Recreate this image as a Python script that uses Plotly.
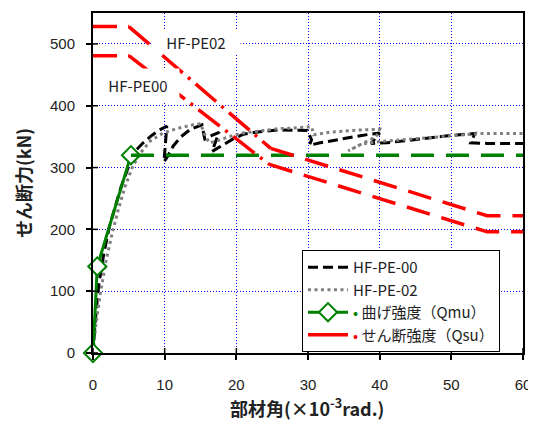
import plotly.graph_objects as go

# ---------------- data ----------------
pe00_x = [0, 0.3, 0.8, 1.5, 2.3, 3.2, 3.9, 4.6, 5.2, 6.0, 7.0, 8.2, 9.3, 10.3,
          10.1, 9.9, 10.4, 11.2, 12.3, 13.6, 15.2,
          15.6, 16.6, 17.6, 16.6, 18.0, 19.5, 21.0, 23.3, 26.0, 29.9,
          30.5, 30.2, 31.7, 34.0, 37.5, 40.0,
          38.8, 41.0, 44.0, 47.0, 50.0, 53.3,
          52.7, 55.0, 60.0]
pe00_y = [0, 50, 110, 160, 205, 243, 268, 290, 310, 328, 340, 352, 361, 367,
          335, 309, 318, 335, 350, 362, 369,
          346, 352, 357, 326, 336, 346, 354, 358, 361, 360,
          345, 336, 340, 345, 352, 356,
          339, 340, 344, 349, 352, 355,
          340, 339, 339]

pe02_x = [0, 0.4, 1.0, 1.8, 2.7, 3.6, 4.5, 5.4, 6.5, 8.0, 9.8, 11.7, 13.5, 15.0,
          15.5, 16.2, 17.3, 19.0, 21.0, 23.0, 26.0, 28.0, 30.5,
          30.8, 33.0, 36.0, 40.0,
          39.5, 35.6, 37.5, 40.0, 44.0, 48.0, 51.0, 54.0, 57.0, 60.0]
pe02_y = [0, 45, 95, 148, 195, 235, 270, 298, 322, 343, 356, 363, 368, 371,
          356, 340, 343, 350, 356, 359, 363, 364, 366,
          353, 357, 360, 362,
          350, 327, 338, 342, 346, 349, 352, 355, 355, 355]

qmu_x = [0, 0.6, 5.3, 60]
qmu_y = [0, 140, 320, 320]

qsu02_x = [0, 5.0, 24.8, 55.0, 60]
qsu02_y = [528, 528, 331, 222, 222]
qsu00_x = [0, 5.0, 24.6, 55.0, 60]
qsu00_y = [481, 481, 305, 196, 196]

x_ticks = [0, 10, 20, 30, 40, 50, 60]
y_ticks = [0, 100, 200, 300, 400, 500]

label_text = ["HF-PE02", "HF-PE00"]
label_x = [14.4, 6.3]
label_y = [503, 433]
label_w = [86, 80]
label_h = [20, 30]

# ---------------- styles ----------------
RED = "#FF0000"
GREEN = "#008000"
GRAY = "#7F7F7F"
JP = "Noto Sans CJK JP"
NUM = "Liberation Sans"

fig = go.Figure()

fig.add_trace(go.Scatter(x=pe00_x, y=pe00_y, mode="lines", name="HF-PE-00",
                         line=dict(color="black", width=3, dash="10px,5px")))
fig.add_trace(go.Scatter(x=pe02_x, y=pe02_y, mode="lines", name="HF-PE-02",
                         line=dict(color=GRAY, width=3, dash="3px,3.5px")))

# Qmu: solid rising part with markers, dashed plateau
fig.add_trace(go.Scatter(x=qmu_x[:3], y=qmu_y[:3], mode="lines+markers",
                         name="<span style='color:#008000'>•</span> 曲げ強度（Qmu）",
                         cliponaxis=False,
                         line=dict(color=GREEN, width=3),
                         marker=dict(symbol="diamond", size=14, color="white",
                                     line=dict(color=GREEN, width=2))))
fig.add_trace(go.Scatter(x=qmu_x[2:], y=qmu_y[2:], mode="lines", showlegend=False,
                         line=dict(color=GREEN, width=3.5, dash="23px,12px")))

# Qsu lines
for xs, ys in [(qsu02_x, qsu02_y), (qsu00_x, qsu00_y)]:
    fig.add_trace(go.Scatter(x=xs[:2], y=ys[:2], mode="lines", showlegend=False,
                             line=dict(color=RED, width=3.5, dash="24px,11px")))
    fig.add_trace(go.Scatter(x=xs[1:3], y=ys[1:3], mode="lines", showlegend=False,
                             line=dict(color=RED, width=3.5, dash="27px,7px,3px,7px")))
    fig.add_trace(go.Scatter(x=xs[2:], y=ys[2:], mode="lines", showlegend=False,
                             line=dict(color=RED, width=3.5, dash="24px,12px")))
# legend entry for Qsu
fig.add_trace(go.Scatter(x=[None], y=[None], mode="lines",
                         name="<span style='color:#FF0000'>•</span> せん断強度（Qsu）",
                         line=dict(color=RED, width=3.5)))

# crossing tick marks (inside halves)
shapes = []
for v in y_ticks:
    shapes.append(dict(type="line", xref="x", yref="y", xsizemode="pixel", xanchor=0,
                       x0=0, x1=5, y0=v, y1=v, line=dict(color="black", width=1.5)))
for v in x_ticks:
    shapes.append(dict(type="line", xref="x", yref="y", ysizemode="pixel", yanchor=0,
                       y0=0, y1=5, x0=v, x1=v, line=dict(color="black", width=1.5)))

annotations = []
for t, ax, ay, w, h in zip(label_text, label_x, label_y, label_w, label_h):
    annotations.append(dict(x=ax, y=ay, xref="x", yref="y", text=t, showarrow=False,
                            width=w, height=h, bgcolor="white",
                            font=dict(family=JP, size=15, color="#222222")))
# x-axis title
annotations.append(dict(x=0.498, y=-0.158, xref="paper", yref="paper",
                        xanchor="center", yanchor="middle", showarrow=False,
                        text="<b>部材角(×10<sup>-3</sup>rad.)</b>",
                        font=dict(family=JP, size=18, color="#222222")))

# page body has an 8px margin, so the figure is drawn 8px smaller
fig.update_layout(
    width=528, height=417,
    margin=dict(l=85, r=13, t=5, b=72, autoexpand=False),
    paper_bgcolor="white", plot_bgcolor="white",
    showlegend=True,
    legend=dict(x=0.486, y=0.303, xanchor="left", yanchor="top",
                bgcolor="white", bordercolor="black", borderwidth=1,
                font=dict(family=JP, size=15, color="#222222"),
                tracegroupgap=0, itemwidth=40),
    shapes=shapes, annotations=annotations,
    xaxis=dict(range=[0, 60], tickvals=x_ticks, ticks="outside", ticklen=5,
               tickwidth=1.5, tickcolor="black", automargin=False,
               showline=True, linecolor="black", linewidth=2, mirror=True,
               showgrid=True, gridcolor="#0000FF", gridwidth=1, griddash="1px,2px",
               zeroline=False, ticklabelstandoff=12,
               tickfont=dict(family=NUM, size=15, color="#222222")),
    yaxis=dict(range=[0, 550], tickvals=y_ticks, ticks="outside", ticklen=5,
               tickwidth=1.5, tickcolor="black", automargin=False,
               showline=True, linecolor="black", linewidth=2, mirror=True,
               showgrid=True, gridcolor="#0000FF", gridwidth=1, griddash="1px,2px",
               zeroline=False, ticklabelstandoff=8,
               tickfont=dict(family=NUM, size=15, color="#222222"),
               title=dict(text="<b>せん断力(kN)</b>", standoff=14,
                          font=dict(family=JP, size=18, color="#222222"))),
)

fig.write_html("out.html")
